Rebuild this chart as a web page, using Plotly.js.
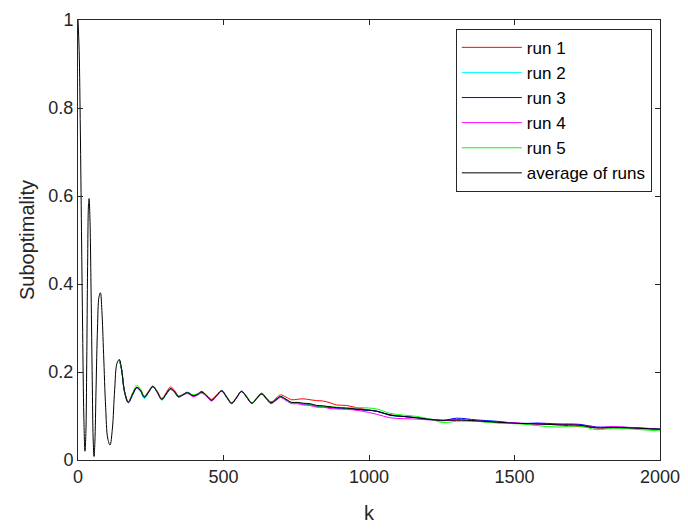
<!DOCTYPE html>
<html>
<head>
<meta charset="utf-8">
<script src="https://cdn.plot.ly/plotly-3.0.1.min.js"></script>
<style>html,body{margin:0;padding:0;background:#fff;}#chart{width:688px;height:531px;}</style>
</head>
<body>
<div id="chart"></div>
<script>
// Shared early transient (all runs coincide here; drawn by the average curve)
const kEarly = [0, 4, 8, 12, 16, 20, 24, 27, 30, 33, 36, 38, 41, 45, 49, 52, 55, 58, 62, 67, 72, 77, 82, 88, 95, 102, 110, 118, 126, 134, 142];
const vEarly = [1.0, 0.93, 0.75, 0.52, 0.29, 0.10, 0.02, 0.06, 0.22, 0.44, 0.58, 0.594, 0.55, 0.38, 0.18, 0.05, 0.008, 0.04, 0.16, 0.30, 0.37, 0.38, 0.34, 0.24, 0.12, 0.05, 0.034, 0.07, 0.16, 0.22, 0.228];

// Later iterations, per run
const kLate = [150, 160, 173, 188, 202, 215, 228, 243, 257, 272, 288, 303, 318, 332, 345, 360, 376, 396, 410, 425, 442, 459, 476, 494, 511, 528, 545, 562, 580, 597, 614, 631, 647, 663, 680, 696, 715, 734, 754, 774, 797, 820, 843, 866, 889, 923, 969, 1026, 1072, 1118, 1164, 1210, 1255, 1301, 1370, 1439, 1519, 1581, 1646, 1725, 1782, 1840, 1931, 2000];
const avgLate = [.205, .155, .131, .150, .165, .158, .143, .155, .167, .155, .138, .150, .162, .155, .144, .148, .153, .146, .149, .154, .146, .136, .146, .157, .143, .129, .142, .156, .143, .129, .140, .150, .140, .130, .137, .144, .138, .131, .131, .129, .128, .124, .123, .121, .119, .118, .115, .111, .102, .099, .096, .092, .090, .091, .089, .086, .083, .082, .080, .079, .073, .074, .072, .070];
const run1Late = [.206, .157, .133, .152, .165, .159, .145, .157, .168, .157, .140, .153, .166, .158, .146, .149, .154, .147, .150, .156, .147, .138, .148, .158, .144, .130, .143, .156, .144, .130, .141, .152, .142, .132, .140, .148, .143, .137, .138, .139, .137, .135, .134, .130, .125, .124, .117, .111, .103, .099, .096, .092, .090, .090, .088, .085, .083, .082, .080, .076, .073, .073, .071, .069];
const run2Late = [.204, .153, .129, .148, .163, .155, .140, .153, .168, .155, .136, .149, .161, .154, .142, .147, .154, .145, .150, .154, .145, .135, .145, .158, .143, .128, .141, .157, .143, .128, .139, .150, .139, .129, .136, .143, .137, .130, .130, .128, .127, .123, .122, .120, .118, .117, .115, .111, .101, .099, .096, .092, .091, .092, .090, .087, .083, .083, .081, .080, .074, .074, .072, .070];
const run3Late = [.205, .155, .131, .149, .164, .157, .142, .155, .167, .154, .138, .150, .162, .155, .144, .148, .153, .146, .148, .155, .146, .136, .146, .157, .142, .129, .142, .156, .142, .129, .140, .150, .140, .130, .137, .144, .137, .130, .130, .127, .126, .122, .121, .119, .118, .117, .114, .111, .102, .099, .096, .093, .090, .095, .091, .088, .083, .084, .082, .081, .075, .075, .073, .070];
const run4Late = [.205, .154, .131, .149, .164, .157, .143, .154, .166, .154, .137, .149, .160, .153, .143, .147, .151, .144, .147, .152, .144, .134, .145, .156, .142, .128, .141, .155, .142, .129, .139, .149, .139, .128, .135, .142, .135, .128, .128, .125, .124, .120, .120, .117, .116, .115, .112, .104, .096, .094, .093, .091, .089, .091, .089, .086, .084, .081, .081, .079, .074, .076, .072, .070];
const run5Late = [.205, .156, .132, .153, .169, .161, .145, .156, .166, .155, .139, .150, .161, .155, .145, .149, .153, .148, .150, .153, .147, .137, .146, .156, .144, .130, .143, .156, .144, .130, .141, .150, .140, .131, .138, .144, .138, .130, .130, .128, .127, .123, .122, .121, .120, .118, .119, .116, .106, .102, .099, .093, .085, .088, .088, .084, .082, .078, .075, .077, .069, .072, .069, .066];

const seriesNames = ['run 1', 'run 2', 'run 3', 'run 4', 'run 5', 'average of runs'];
const seriesColors = ['#ff0000', '#00ffff', '#0000ff', '#ff00ff', '#00ff00', '#000000'];
const seriesLate = [run1Late, run2Late, run3Late, run4Late, run5Late, avgLate];

const xTicks = [0, 500, 1000, 1500, 2000];
const yTicks = [0, 0.2, 0.4, 0.6, 0.8, 1];
const yTickText = ['0', '0.2', '0.4', '0.6', '0.8', '1'];

const nE = kEarly.length;
const traces = seriesNames.map((name, i) => {
  const isAvg = i === seriesNames.length - 1;
  // runs join the shared curve at its last early point; the average draws the whole transient
  const xs = isAvg ? kEarly.concat(kLate) : kEarly.slice(nE - 1).concat(kLate);
  const ys = isAvg ? vEarly.concat(seriesLate[i]) : vEarly.slice(nE - 1).concat(seriesLate[i]);
  return {
    type: 'scatter', mode: 'lines', name: name, x: xs, y: ys,
    line: {color: seriesColors[i], width: 1, shape: 'spline', smoothing: 1}
  };
});

const FONT = 'Liberation Sans, Arial, sans-serif';
const axisCommon = {
  showline: true, linecolor: '#262626', linewidth: 1, mirror: 'ticks',
  ticks: 'inside', ticklen: 5, tickwidth: 1, tickcolor: '#262626',
  showgrid: false, zeroline: false,
  tickfont: {family: FONT, size: 18, color: '#262626'}
};

const layout = {
  width: 688, height: 531,
  margin: {l: 78, r: 28, t: 20, b: 71},
  paper_bgcolor: '#ffffff', plot_bgcolor: '#ffffff',
  showlegend: true,
  xaxis: Object.assign({}, axisCommon, {
    range: [0, 2000], tickvals: xTicks, ticktext: xTicks.map(String),
    title: {text: 'k', font: {family: FONT, size: 20, color: '#262626'}, standoff: 20}
  }),
  yaxis: Object.assign({}, axisCommon, {
    range: [0, 1], tickvals: yTicks, ticktext: yTickText,
    title: {text: 'Suboptimality', font: {family: FONT, size: 20, color: '#262626'}, standoff: 8}
  }),
  legend: {
    x: 0.986, xanchor: 'right', y: 0.98, yanchor: 'top',
    bordercolor: '#262626', borderwidth: 1, bgcolor: '#ffffff',
    font: {family: FONT, size: 17, color: '#000000'},
    itemwidth: 60, tracegroupgap: 0
  }
};

Plotly.newPlot('chart', traces, layout, {displayModeBar: false, staticPlot: true});
</script>
</body>
</html>
